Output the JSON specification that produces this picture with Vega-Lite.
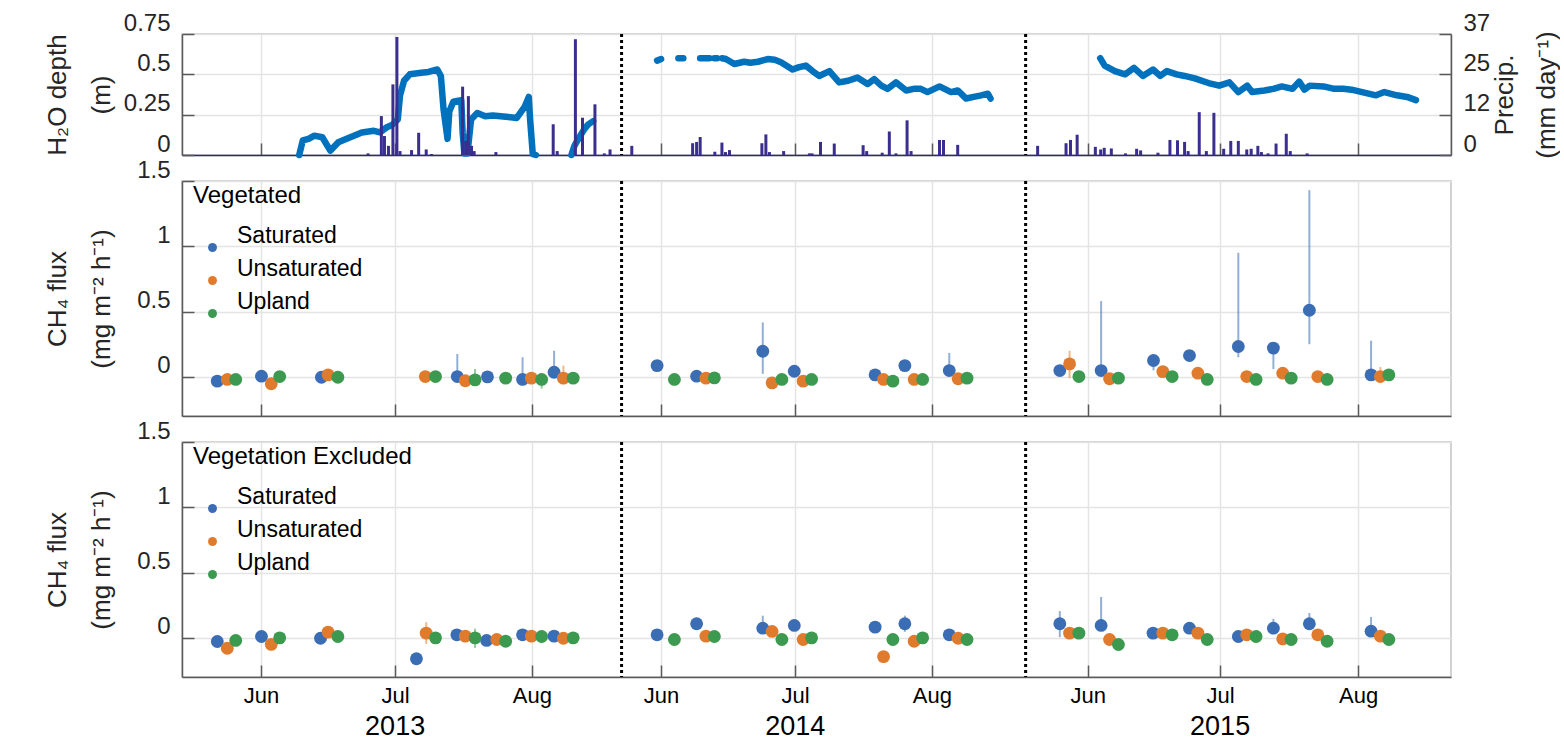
{
  "$schema": "https://vega.github.io/schema/vega-lite/v6.json",
  "padding": {"left": 43, "top": 10, "right": 0, "bottom": 0},
  "background": "white",
  "config": {
    "font": "Liberation Sans",
    "view": {"stroke": "#c4c4c4", "strokeWidth": 1.5},
    "axis": {
      "gridColor": "#e4e4e4", "gridWidth": 1.5,
      "domainColor": "#5a5a5a", "domainWidth": 1.5,
      "tickColor": "#5a5a5a", "tickWidth": 1.5, "tickSize": -12,
      "labelFont": "Liberation Sans", "labelFontSize": 24, "labelColor": "#262626",
      "titleFont": "Liberation Sans", "titleFontSize": 26, "titleFontWeight": "normal", "titleColor": "#262626"
    },
    "axisY": {"labelOffset": -11, "labelPadding": 24},
    "axisX": {"labelPadding": 20},
    "legend": {
      "padding": 0, "titleFont": "Liberation Sans", "titleFontSize": 24, "titleFontWeight": "normal", "titleColor": "black",
      "titlePadding": 28, "labelFont": "Liberation Sans", "labelFontSize": 23, "labelColor": "black", "labelOffset": 13,
      "labelBaseline": "bottom", "symbolType": "circle", "symbolSize": 80, "symbolOffset": 8, "symbolStrokeWidth": 0,
      "rowPadding": 5, "titleLimit": 0, "labelLimit": 0
    }
  },
  "datasets": {
    "sep": [{"d": 99.0}, {"d": 190.0}],
    "years": [{"d": 48, "year": "2013"}, {"d": 138.1, "year": "2014"}, {"d": 233.8, "year": "2015"}],
    "depth": [
      {"seg":"a","d":26.4,"v":0},{"seg":"a","d":27.2,"v":0.09},{"seg":"a","d":28.5,"v":0.1},{"seg":"a","d":29.8,"v":0.12},
      {"seg":"a","d":31.6,"v":0.11},{"seg":"a","d":33.4,"v":0.027},{"seg":"a","d":35.2,"v":0.079},{"seg":"a","d":37.9,"v":0.11},
      {"seg":"a","d":40.5,"v":0.14},{"seg":"a","d":43.2,"v":0.15},{"seg":"a","d":44.6,"v":0.14},{"seg":"a","d":46.0,"v":0.17},
      {"seg":"a","d":47.3,"v":0.186},{"seg":"a","d":48.6,"v":0.22},{"seg":"a","d":49.1,"v":0.37},{"seg":"a","d":50.0,"v":0.46},
      {"seg":"a","d":51.3,"v":0.5},{"seg":"a","d":53.9,"v":0.51},{"seg":"a","d":55.5,"v":0.515},{"seg":"a","d":57.5,"v":0.53},
      {"seg":"a","d":58.3,"v":0.49},{"seg":"a","d":58.9,"v":0.285},{"seg":"a","d":59.8,"v":0.1},{"seg":"a","d":60.2,"v":0.27},
      {"seg":"a","d":61.1,"v":0.33},{"seg":"a","d":62.9,"v":0.34},{"seg":"a","d":63.2,"v":0.14},{"seg":"a","d":63.6,"v":0.01},
      {"seg":"a","d":64.3,"v":0.01},{"seg":"a","d":65.1,"v":0.22},{"seg":"a","d":66.5,"v":0.26},{"seg":"a","d":68.3,"v":0.24},
      {"seg":"a","d":70.0,"v":0.245},{"seg":"a","d":71.8,"v":0.24},{"seg":"a","d":73.5,"v":0.235},{"seg":"a","d":75.4,"v":0.23},
      {"seg":"a","d":77.2,"v":0.3},{"seg":"a","d":78.1,"v":0.36},{"seg":"a","d":78.4,"v":0.22},{"seg":"a","d":79.0,"v":0.006},
      {"seg":"a","d":79.7,"v":0},
      {"seg":"b","d":87.7,"v":0},{"seg":"b","d":88.4,"v":0.058},{"seg":"b","d":89.7,"v":0.12},{"seg":"b","d":90.6,"v":0.16},
      {"seg":"b","d":91.5,"v":0.19},{"seg":"b","d":92.6,"v":0.21},
      {"seg":"c1","d":107.0,"v":0.585},{"seg":"c1","d":107.9,"v":0.595},
      {"seg":"c2","d":111.8,"v":0.6},{"seg":"c2","d":112.9,"v":0.6},
      {"seg":"c3","d":116.7,"v":0.6},{"seg":"c3","d":118.8,"v":0.6},
      {"seg":"c4","d":119.9,"v":0.6},{"seg":"c4","d":120.5,"v":0.6},
      {"seg":"d","d":121.6,"v":0.6},{"seg":"d","d":122.5,"v":0.595},{"seg":"d","d":124.4,"v":0.564},{"seg":"d","d":126.6,"v":0.578},
      {"seg":"d","d":128.0,"v":0.572},{"seg":"d","d":129.7,"v":0.578},{"seg":"d","d":131.9,"v":0.595},{"seg":"d","d":133.5,"v":0.59},
      {"seg":"d","d":134.9,"v":0.575},{"seg":"d","d":137.5,"v":0.53},{"seg":"d","d":139.0,"v":0.545},{"seg":"d","d":140.5,"v":0.554},
      {"seg":"d","d":142.0,"v":0.52},{"seg":"d","d":143.5,"v":0.49},{"seg":"d","d":145.8,"v":0.52},{"seg":"d","d":148.0,"v":0.45},
      {"seg":"d","d":150.0,"v":0.46},{"seg":"d","d":152.1,"v":0.48},{"seg":"d","d":154.4,"v":0.44},{"seg":"d","d":155.9,"v":0.47},
      {"seg":"d","d":157.5,"v":0.43},{"seg":"d","d":158.9,"v":0.41},{"seg":"d","d":160.8,"v":0.45},{"seg":"d","d":163.1,"v":0.4},
      {"seg":"d","d":164.8,"v":0.41},{"seg":"d","d":166.4,"v":0.41},{"seg":"d","d":167.9,"v":0.39},{"seg":"d","d":170.6,"v":0.425},
      {"seg":"d","d":173.2,"v":0.39},{"seg":"d","d":174.7,"v":0.4},{"seg":"d","d":176.6,"v":0.35},{"seg":"d","d":178.3,"v":0.36},
      {"seg":"d","d":180.0,"v":0.37},{"seg":"d","d":181.5,"v":0.38},{"seg":"d","d":182.1,"v":0.35},
      {"seg":"e","d":206.8,"v":0.6},{"seg":"e","d":207.8,"v":0.554},{"seg":"e","d":210.1,"v":0.52},{"seg":"e","d":212.4,"v":0.5},
      {"seg":"e","d":214.4,"v":0.54},{"seg":"e","d":216.4,"v":0.49},{"seg":"e","d":218.7,"v":0.53},{"seg":"e","d":220.3,"v":0.49},
      {"seg":"e","d":221.8,"v":0.52},{"seg":"e","d":224.0,"v":0.5},{"seg":"e","d":225.8,"v":0.49},{"seg":"e","d":228.1,"v":0.475},
      {"seg":"e","d":231.2,"v":0.446},{"seg":"e","d":233.6,"v":0.43},{"seg":"e","d":235.9,"v":0.45},{"seg":"e","d":237.9,"v":0.39},
      {"seg":"e","d":239.9,"v":0.43},{"seg":"e","d":241.0,"v":0.39},{"seg":"e","d":243.8,"v":0.4},{"seg":"e","d":245.8,"v":0.41},
      {"seg":"e","d":247.7,"v":0.425},{"seg":"e","d":250.1,"v":0.41},{"seg":"e","d":251.6,"v":0.455},{"seg":"e","d":252.8,"v":0.405},
      {"seg":"e","d":254.0,"v":0.43},{"seg":"e","d":257.1,"v":0.425},{"seg":"e","d":259.5,"v":0.41},{"seg":"e","d":261.5,"v":0.41},
      {"seg":"e","d":263.4,"v":0.405},{"seg":"e","d":266.5,"v":0.385},{"seg":"e","d":268.9,"v":0.37},{"seg":"e","d":270.8,"v":0.39},
      {"seg":"e","d":273.6,"v":0.37},{"seg":"e","d":275.9,"v":0.36},{"seg":"e","d":277.9,"v":0.34}
    ],
    "precip": [
      {"d":41.9,"p":0.5},{"d":44.9,"p":11.9},{"d":45.6,"p":5.8},{"d":46.5,"p":2.8},{"d":47.5,"p":21.6},{"d":48.4,"p":36.1},
      {"d":49.1,"p":1.2},{"d":51.7,"p":1.5},{"d":53.3,"p":6.8},{"d":55.0,"p":1.7},{"d":56.2,"p":0.3},{"d":63.2,"p":20.9},
      {"d":63.9,"p":4.3},{"d":64.5,"p":18.0},{"d":65.2,"p":2.8},{"d":65.8,"p":1.2},{"d":70.7,"p":0.9},{"d":83.6,"p":9.4},
      {"d":84.5,"p":1.2},{"d":88.6,"p":35.4},{"d":90.2,"p":11.4},{"d":93.0,"p":15.5},{"d":95.1,"p":0.5},{"d":96.4,"p":1.7},
      {"d":101.3,"p":2.8},{"d":115.0,"p":3.6},{"d":115.9,"p":4.0},{"d":116.7,"p":5.5},{"d":120.0,"p":1.0},{"d":121.6,"p":3.8},
      {"d":122.4,"p":0.9},{"d":123.3,"p":1.5},{"d":130.6,"p":3.6},{"d":131.5,"p":6.3},{"d":132.3,"p":0.9},{"d":135.5,"p":1.2},
      {"d":141.3,"p":0.5},{"d":141.9,"p":0.5},{"d":143.8,"p":4.0},{"d":146.9,"p":3.5},{"d":153.4,"p":3.0},{"d":154.2,"p":1.2},
      {"d":157.7,"p":0.7},{"d":159.3,"p":7.2},{"d":160.8,"p":0.5},{"d":163.3,"p":10.6},{"d":164.2,"p":1.2},{"d":170.6,"p":4.6},
      {"d":171.5,"p":4.6},{"d":174.7,"p":3.1},{"d":192.7,"p":2.8},{"d":199.1,"p":3.6},{"d":200.1,"p":4.6},{"d":201.6,"p":6.2},
      {"d":205.7,"p":2.5},{"d":206.9,"p":1.7},{"d":207.7,"p":2.2},{"d":209.3,"p":2.0},{"d":212.5,"p":0.5},{"d":215.0,"p":1.9},
      {"d":215.9,"p":1.4},{"d":219.8,"p":0.7},{"d":222.5,"p":4.6},{"d":224.2,"p":4.5},{"d":225.8,"p":4.0},{"d":226.6,"p":1.2},
      {"d":229.1,"p":13.1},{"d":230.7,"p":1.2},{"d":232.4,"p":12.9},{"d":234.6,"p":1.9},{"d":236.2,"p":4.3},{"d":237.9,"p":4.3},
      {"d":239.8,"p":1.7},{"d":240.8,"p":1.9},{"d":242.3,"p":2.8},{"d":243.1,"p":0.9},{"d":244.6,"p":0.5},{"d":246.4,"p":3.5},
      {"d":248.7,"p":6.5},{"d":249.6,"p":1.2},{"d":253.4,"p":0.5}
    ],
    "flux": [
      {"panel":"veg","series":"Saturated","d":7.95,"v":-0.033},
      {"panel":"veg","series":"Saturated","d":17.9,"v":0.005},
      {"panel":"veg","series":"Saturated","d":31.4,"v":-0.003},
      {"panel":"veg","series":"Saturated","d":62.0,"v":0.002,"lo":-0.03,"hi":0.175},
      {"panel":"veg","series":"Saturated","d":68.8,"v":0.0},
      {"panel":"veg","series":"Saturated","d":76.7,"v":-0.02,"lo":-0.05,"hi":0.15},
      {"panel":"veg","series":"Saturated","d":83.8,"v":0.035,"lo":0.0,"hi":0.2},
      {"panel":"veg","series":"Saturated","d":107.0,"v":0.086},
      {"panel":"veg","series":"Saturated","d":115.9,"v":0.005},
      {"panel":"veg","series":"Saturated","d":130.8,"v":0.196,"lo":0.023,"hi":0.417},
      {"panel":"veg","series":"Saturated","d":137.9,"v":0.043},
      {"panel":"veg","series":"Saturated","d":156.1,"v":0.015},
      {"panel":"veg","series":"Saturated","d":162.8,"v":0.086},
      {"panel":"veg","series":"Saturated","d":172.8,"v":0.048,"lo":0.02,"hi":0.183},
      {"panel":"veg","series":"Saturated","d":197.7,"v":0.048},
      {"panel":"veg","series":"Saturated","d":207.0,"v":0.048,"lo":0.02,"hi":0.58},
      {"panel":"veg","series":"Saturated","d":218.8,"v":0.125,"lo":0.05,"hi":0.14},
      {"panel":"veg","series":"Saturated","d":226.9,"v":0.163},
      {"panel":"veg","series":"Saturated","d":237.9,"v":0.232,"lo":0.15,"hi":0.95},
      {"panel":"veg","series":"Saturated","d":245.8,"v":0.22,"lo":0.06,"hi":0.24},
      {"panel":"veg","series":"Saturated","d":253.9,"v":0.51,"lo":0.25,"hi":1.43},
      {"panel":"veg","series":"Saturated","d":267.8,"v":0.015,"lo":0.0,"hi":0.277},
      {"panel":"veg","series":"Unsaturated","d":10.2,"v":-0.02},
      {"panel":"veg","series":"Unsaturated","d":20.1,"v":-0.053},
      {"panel":"veg","series":"Unsaturated","d":32.9,"v":0.015},
      {"panel":"veg","series":"Unsaturated","d":54.8,"v":0.002},
      {"panel":"veg","series":"Unsaturated","d":63.8,"v":-0.03},
      {"panel":"veg","series":"Unsaturated","d":78.7,"v":-0.01},
      {"panel":"veg","series":"Unsaturated","d":85.9,"v":-0.01,"lo":-0.03,"hi":0.086},
      {"panel":"veg","series":"Unsaturated","d":118.0,"v":-0.01},
      {"panel":"veg","series":"Unsaturated","d":132.9,"v":-0.046},
      {"panel":"veg","series":"Unsaturated","d":139.9,"v":-0.033},
      {"panel":"veg","series":"Unsaturated","d":158.0,"v":-0.02},
      {"panel":"veg","series":"Unsaturated","d":164.9,"v":-0.02},
      {"panel":"veg","series":"Unsaturated","d":174.8,"v":-0.015},
      {"panel":"veg","series":"Unsaturated","d":199.9,"v":0.099,"lo":-0.01,"hi":0.2},
      {"panel":"veg","series":"Unsaturated","d":208.9,"v":-0.015},
      {"panel":"veg","series":"Unsaturated","d":220.9,"v":0.04},
      {"panel":"veg","series":"Unsaturated","d":228.8,"v":0.028},
      {"panel":"veg","series":"Unsaturated","d":239.8,"v":0.002},
      {"panel":"veg","series":"Unsaturated","d":247.9,"v":0.028},
      {"panel":"veg","series":"Unsaturated","d":255.8,"v":0.002},
      {"panel":"veg","series":"Unsaturated","d":269.9,"v":0.002,"lo":-0.01,"hi":0.075},
      {"panel":"veg","series":"Upland","d":12.1,"v":-0.02},
      {"panel":"veg","series":"Upland","d":22.0,"v":0.002},
      {"panel":"veg","series":"Upland","d":35.1,"v":-0.003},
      {"panel":"veg","series":"Upland","d":57.1,"v":0.002},
      {"panel":"veg","series":"Upland","d":66.0,"v":-0.023,"lo":-0.06,"hi":0.06},
      {"panel":"veg","series":"Upland","d":72.9,"v":-0.01},
      {"panel":"veg","series":"Upland","d":81.0,"v":-0.02,"lo":-0.09,"hi":0.0},
      {"panel":"veg","series":"Upland","d":88.1,"v":-0.01},
      {"panel":"veg","series":"Upland","d":110.9,"v":-0.02},
      {"panel":"veg","series":"Upland","d":119.9,"v":-0.008},
      {"panel":"veg","series":"Upland","d":135.1,"v":-0.02},
      {"panel":"veg","series":"Upland","d":141.8,"v":-0.02},
      {"panel":"veg","series":"Upland","d":160.1,"v":-0.033},
      {"panel":"veg","series":"Upland","d":166.8,"v":-0.02},
      {"panel":"veg","series":"Upland","d":176.8,"v":-0.01},
      {"panel":"veg","series":"Upland","d":202.0,"v":0.002},
      {"panel":"veg","series":"Upland","d":210.9,"v":-0.01},
      {"panel":"veg","series":"Upland","d":223.0,"v":0.002},
      {"panel":"veg","series":"Upland","d":230.9,"v":-0.02},
      {"panel":"veg","series":"Upland","d":241.9,"v":-0.02},
      {"panel":"veg","series":"Upland","d":249.8,"v":-0.01},
      {"panel":"veg","series":"Upland","d":257.9,"v":-0.02},
      {"panel":"veg","series":"Upland","d":271.8,"v":0.015},
      {"panel":"exc","series":"Saturated","d":7.95,"v":-0.028},
      {"panel":"exc","series":"Saturated","d":17.9,"v":0.01},
      {"panel":"exc","series":"Saturated","d":31.2,"v":-0.003},
      {"panel":"exc","series":"Saturated","d":52.8,"v":-0.16},
      {"panel":"exc","series":"Saturated","d":61.9,"v":0.023},
      {"panel":"exc","series":"Saturated","d":68.6,"v":-0.02},
      {"panel":"exc","series":"Saturated","d":76.7,"v":0.023},
      {"panel":"exc","series":"Saturated","d":83.8,"v":0.013},
      {"panel":"exc","series":"Saturated","d":107.0,"v":0.023},
      {"panel":"exc","series":"Saturated","d":115.9,"v":0.108},
      {"panel":"exc","series":"Saturated","d":130.8,"v":0.074,"lo":0.05,"hi":0.17},
      {"panel":"exc","series":"Saturated","d":137.9,"v":0.095},
      {"panel":"exc","series":"Saturated","d":156.1,"v":0.082},
      {"panel":"exc","series":"Saturated","d":162.8,"v":0.108,"lo":0.046,"hi":0.17},
      {"panel":"exc","series":"Saturated","d":172.8,"v":0.023},
      {"panel":"exc","series":"Saturated","d":197.7,"v":0.108,"lo":0.005,"hi":0.205},
      {"panel":"exc","series":"Saturated","d":207.0,"v":0.095,"lo":0.08,"hi":0.313},
      {"panel":"exc","series":"Saturated","d":218.7,"v":0.036},
      {"panel":"exc","series":"Saturated","d":226.9,"v":0.074},
      {"panel":"exc","series":"Saturated","d":237.9,"v":0.01},
      {"panel":"exc","series":"Saturated","d":245.8,"v":0.074,"lo":0.06,"hi":0.146},
      {"panel":"exc","series":"Saturated","d":253.9,"v":0.108,"lo":0.09,"hi":0.19},
      {"panel":"exc","series":"Saturated","d":267.8,"v":0.051,"lo":0.03,"hi":0.16},
      {"panel":"exc","series":"Unsaturated","d":10.2,"v":-0.08},
      {"panel":"exc","series":"Unsaturated","d":20.1,"v":-0.05},
      {"panel":"exc","series":"Unsaturated","d":32.9,"v":0.044},
      {"panel":"exc","series":"Unsaturated","d":55.0,"v":0.036,"lo":-0.046,"hi":0.12},
      {"panel":"exc","series":"Unsaturated","d":63.8,"v":0.013},
      {"panel":"exc","series":"Unsaturated","d":70.9,"v":-0.013},
      {"panel":"exc","series":"Unsaturated","d":78.7,"v":0.013},
      {"panel":"exc","series":"Unsaturated","d":85.9,"v":-0.003},
      {"panel":"exc","series":"Unsaturated","d":118.0,"v":0.013},
      {"panel":"exc","series":"Unsaturated","d":132.9,"v":0.049},
      {"panel":"exc","series":"Unsaturated","d":139.9,"v":-0.013},
      {"panel":"exc","series":"Unsaturated","d":158.0,"v":-0.144},
      {"panel":"exc","series":"Unsaturated","d":164.9,"v":-0.026},
      {"panel":"exc","series":"Unsaturated","d":174.8,"v":-0.003},
      {"panel":"exc","series":"Unsaturated","d":199.9,"v":0.036},
      {"panel":"exc","series":"Unsaturated","d":208.9,"v":-0.013},
      {"panel":"exc","series":"Unsaturated","d":220.9,"v":0.036},
      {"panel":"exc","series":"Unsaturated","d":228.8,"v":0.036},
      {"panel":"exc","series":"Unsaturated","d":239.8,"v":0.023},
      {"panel":"exc","series":"Unsaturated","d":247.9,"v":-0.008},
      {"panel":"exc","series":"Unsaturated","d":255.8,"v":0.023},
      {"panel":"exc","series":"Unsaturated","d":269.9,"v":0.013},
      {"panel":"exc","series":"Upland","d":12.1,"v":-0.02},
      {"panel":"exc","series":"Upland","d":22.0,"v":0.0},
      {"panel":"exc","series":"Upland","d":35.1,"v":0.01},
      {"panel":"exc","series":"Upland","d":57.1,"v":0.0},
      {"panel":"exc","series":"Upland","d":66.0,"v":0.0,"lo":-0.077,"hi":0.07},
      {"panel":"exc","series":"Upland","d":72.9,"v":-0.026},
      {"panel":"exc","series":"Upland","d":81.0,"v":0.01},
      {"panel":"exc","series":"Upland","d":88.1,"v":0.0},
      {"panel":"exc","series":"Upland","d":110.9,"v":-0.013},
      {"panel":"exc","series":"Upland","d":119.9,"v":0.01},
      {"panel":"exc","series":"Upland","d":135.1,"v":-0.013},
      {"panel":"exc","series":"Upland","d":141.8,"v":0.0},
      {"panel":"exc","series":"Upland","d":160.1,"v":-0.013},
      {"panel":"exc","series":"Upland","d":166.8,"v":0.0},
      {"panel":"exc","series":"Upland","d":176.8,"v":-0.013},
      {"panel":"exc","series":"Upland","d":202.0,"v":0.036},
      {"panel":"exc","series":"Upland","d":210.9,"v":-0.051},
      {"panel":"exc","series":"Upland","d":223.0,"v":0.023},
      {"panel":"exc","series":"Upland","d":230.9,"v":-0.013},
      {"panel":"exc","series":"Upland","d":241.9,"v":0.01},
      {"panel":"exc","series":"Upland","d":249.8,"v":-0.013},
      {"panel":"exc","series":"Upland","d":257.9,"v":-0.026},
      {"panel":"exc","series":"Upland","d":271.8,"v":-0.013}
    ]
  },
  "spacing": 26,
  "bounds": "flush",
  "resolve": {"legend": {"color": "independent"}},
  "vconcat": [
    {
      "width": 1269, "height": 121,
      "resolve": {"scale": {"y": "independent"}},
      "layer": [
        {
          "data": {"name": "depth"},
          "mark": {"type": "line", "color": "#0072bd", "strokeWidth": 6.5, "strokeCap": "round", "strokeJoin": "round"},
          "encoding": {
            "x": {"field": "d", "type": "quantitative", "scale": {"domain": [0, 285.8], "nice": false, "zero": false},
                  "axis": {"values": [17.8, 48, 78.8, 107.9, 138.1, 168.9, 204, 233.8, 264.9], "labels": false, "title": null, "grid": true, "domainColor": "#2f2a6b"}},
            "y": {"field": "v", "type": "quantitative", "scale": {"domain": [0, 0.75], "nice": false, "zero": false},
                  "axis": {"orient": "left", "values": [0, 0.25, 0.5, 0.75], "format": ".2~f", "grid": true,
                           "title": ["H₂O depth", "(m)"], "titleX": -112, "titleLineHeight": 44}},
            "detail": {"field": "seg", "type": "nominal"}
          }
        },
        {
          "data": {"name": "precip"},
          "mark": {"type": "rule", "color": "#3a2e8e", "strokeWidth": 3},
          "encoding": {
            "x": {"field": "d", "type": "quantitative"},
            "y": {"field": "p", "type": "quantitative", "scale": {"domain": [0, 37], "nice": false, "zero": false},
                  "axis": {"orient": "right", "values": [0, 12.3333, 24.6667, 37], "format": ".0f", "grid": false,
                           "title": ["Precip.", "(mm day⁻¹)"], "titleAngle": 270, "titleBaseline": "top", "titleAlign": "center",
                           "titleX": 40, "titleLineHeight": 42}},
            "y2": {"datum": 0}
          }
        },
        {
          "data": {"name": "sep"},
          "mark": {"type": "rule", "color": "black", "strokeWidth": 3, "strokeDash": [3, 3]},
          "encoding": {"x": {"field": "d", "type": "quantitative"}}
        }
      ]
    },
    {
      "width": 1269, "height": 235,
      "layer": [
        {
          "data": {"name": "sep"},
          "mark": {"type": "rule", "color": "black", "strokeWidth": 3, "strokeDash": [3, 3]},
          "encoding": {"x": {"field": "d", "type": "quantitative", "scale": {"domain": [0, 285.8], "nice": false, "zero": false},
                  "axis": {"values": [17.8, 48, 78.8, 107.9, 138.1, 168.9, 204, 233.8, 264.9], "labels": false, "title": null, "grid": true}}}
        },
        {
          "data": {"name": "flux"},
          "transform": [{"filter": "datum.panel == 'veg' && isValid(datum.lo)"}],
          "mark": {"type": "rule", "strokeWidth": 2, "opacity": 0.55},
          "encoding": {
            "x": {"field": "d", "type": "quantitative"},
            "y": {"field": "lo", "type": "quantitative", "scale": {"domain": [-0.3, 1.5], "nice": false, "zero": false},
                  "axis": {"values": [0, 0.5, 1, 1.5], "format": ".2~f", "grid": true, "title": ["CH₄  flux", "(mg m⁻² h⁻¹)"], "titleX": -112, "titleLineHeight": 44}},
            "y2": {"field": "hi"},
            "stroke": {"field": "series", "type": "nominal", "scale": {"domain": ["Saturated", "Unsaturated", "Upland"], "range": ["#3b6db5", "#e07b2e", "#3b9a4f"]}, "legend": null}
          }
        },
        {
          "data": {"name": "flux"},
          "transform": [{"filter": "datum.panel == 'veg'"}],
          "mark": {"type": "circle", "size": 165, "opacity": 1},
          "encoding": {
            "x": {"field": "d", "type": "quantitative"},
            "y": {"field": "v", "type": "quantitative"},
            "color": {"field": "series", "type": "nominal", "scale": {"domain": ["Saturated", "Unsaturated", "Upland"], "range": ["#3b6db5", "#e07b2e", "#3b9a4f"]},
                      "legend": {"title": "Vegetated", "orient": "none", "legendX": 11, "legendY": 3}}
          }
        }
      ]
    },
    {
      "width": 1269, "height": 235,
      "layer": [
        {
          "data": {"name": "sep"},
          "mark": {"type": "rule", "color": "black", "strokeWidth": 3, "strokeDash": [3, 3]},
          "encoding": {"x": {"field": "d", "type": "quantitative", "scale": {"domain": [0, 285.8], "nice": false, "zero": false},
                  "axis": {"values": [17.8, 48, 78.8, 107.9, 138.1, 168.9, 204, 233.8, 264.9], "title": null, "grid": true,
                           "labelFlush": false, "labelBaseline": "top", "labelFontSize": 22, "labelColor": "black",
                           "labelExpr": "datum.value < 30 || (datum.value > 100 && datum.value < 120) || (datum.value > 195 && datum.value < 215) ? 'Jun' : datum.value < 60 || (datum.value > 130 && datum.value < 150) || (datum.value > 220 && datum.value < 250) ? 'Jul' : 'Aug'"}}}
        },
        {
          "data": {"name": "flux"},
          "transform": [{"filter": "datum.panel == 'exc' && isValid(datum.lo)"}],
          "mark": {"type": "rule", "strokeWidth": 2, "opacity": 0.55},
          "encoding": {
            "x": {"field": "d", "type": "quantitative"},
            "y": {"field": "lo", "type": "quantitative", "scale": {"domain": [-0.3, 1.5], "nice": false, "zero": false},
                  "axis": {"values": [0, 0.5, 1, 1.5], "format": ".2~f", "grid": true, "title": ["CH₄  flux", "(mg m⁻² h⁻¹)"], "titleX": -112, "titleLineHeight": 44}},
            "y2": {"field": "hi"},
            "stroke": {"field": "series", "type": "nominal", "scale": {"domain": ["Saturated", "Unsaturated", "Upland"], "range": ["#3b6db5", "#e07b2e", "#3b9a4f"]}, "legend": null}
          }
        },
        {
          "data": {"name": "flux"},
          "transform": [{"filter": "datum.panel == 'exc'"}],
          "mark": {"type": "circle", "size": 165, "opacity": 1},
          "encoding": {
            "x": {"field": "d", "type": "quantitative"},
            "y": {"field": "v", "type": "quantitative"},
            "color": {"field": "series", "type": "nominal", "scale": {"domain": ["Saturated", "Unsaturated", "Upland"], "range": ["#3b6db5", "#e07b2e", "#3b9a4f"]},
                      "legend": {"title": "Vegetation Excluded", "orient": "none", "legendX": 11, "legendY": 3}}
          }
        },
        {
          "data": {"name": "years"},
          "mark": {"type": "text", "font": "Liberation Sans", "fontSize": 27, "color": "black", "baseline": "middle", "align": "center"},
          "encoding": {
            "x": {"field": "d", "type": "quantitative"},
            "y": {"datum": -0.68},
            "text": {"field": "year", "type": "nominal"}
          }
        }
      ]
    }
  ]
}
